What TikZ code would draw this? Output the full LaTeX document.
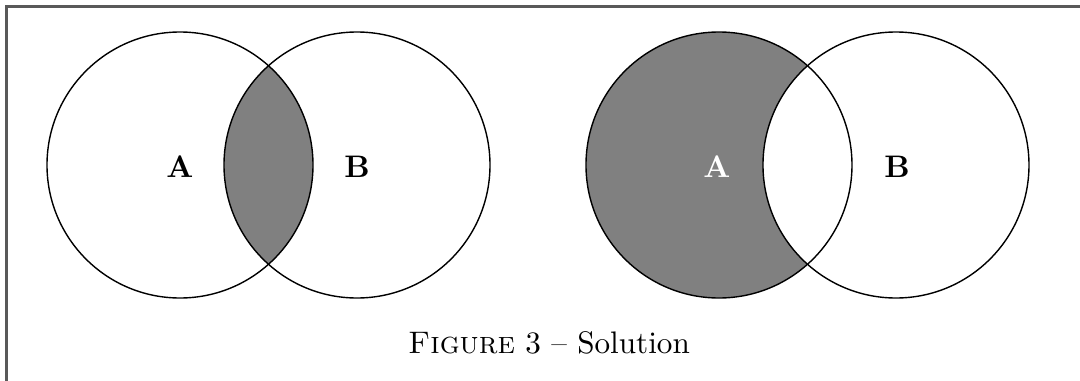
\documentclass[tikz,border=0pt]{standalone}
\usepackage{fontspec}
\begin{document}
\begin{tikzpicture}[x=0.3209pt,y=-0.3209pt,
  setcircle/.style={draw=black,line width=0.45pt},
  framelines/.style={draw=black!65,line width=0.7pt},
  setlabel/.style={font=\bfseries,inner sep=0pt}]
\useasboundingbox (0,0) rectangle (1080,381);
\def\R{133}
\coordinate (cA1) at (180,165);
\coordinate (cB1) at (357,165);
\coordinate (cA2) at (719,165);
\coordinate (cB2) at (896,165);
\coordinate (fTL) at (6.5,6.5);
\coordinate (fTR) at (1080,6.5);
\coordinate (fBL) at (6.5,381);
% frame
\draw[framelines] (fBL) -- (fTL) -- (fTR);
% left: intersection
\begin{scope}
  \clip (cA1) circle (\R);
  \fill[gray] (cB1) circle (\R);
\end{scope}
% right: A minus B
\begin{scope}
  \clip (cA2) circle (\R);
  \fill[gray,even odd rule] (cA2) circle (\R) (cB2) circle (\R);
\end{scope}
\draw[setcircle] (cA1) circle (\R);
\draw[setcircle] (cB1) circle (\R);
\draw[setcircle] (cA2) circle (\R);
\draw[setcircle] (cB2) circle (\R);
\node[setlabel] (lA1) at (180,167) {A};
\node[setlabel] (lB1) at (357,167) {B};
\node[setlabel,text=white] (lA2) at (717,167) {A};
\node[setlabel] (lB2) at (897,167) {B};
\node[anchor=base,inner sep=0pt] (cap) at (549,353) {\textsc{Figure} 3 -- Solution};
\end{tikzpicture}
\end{document}
